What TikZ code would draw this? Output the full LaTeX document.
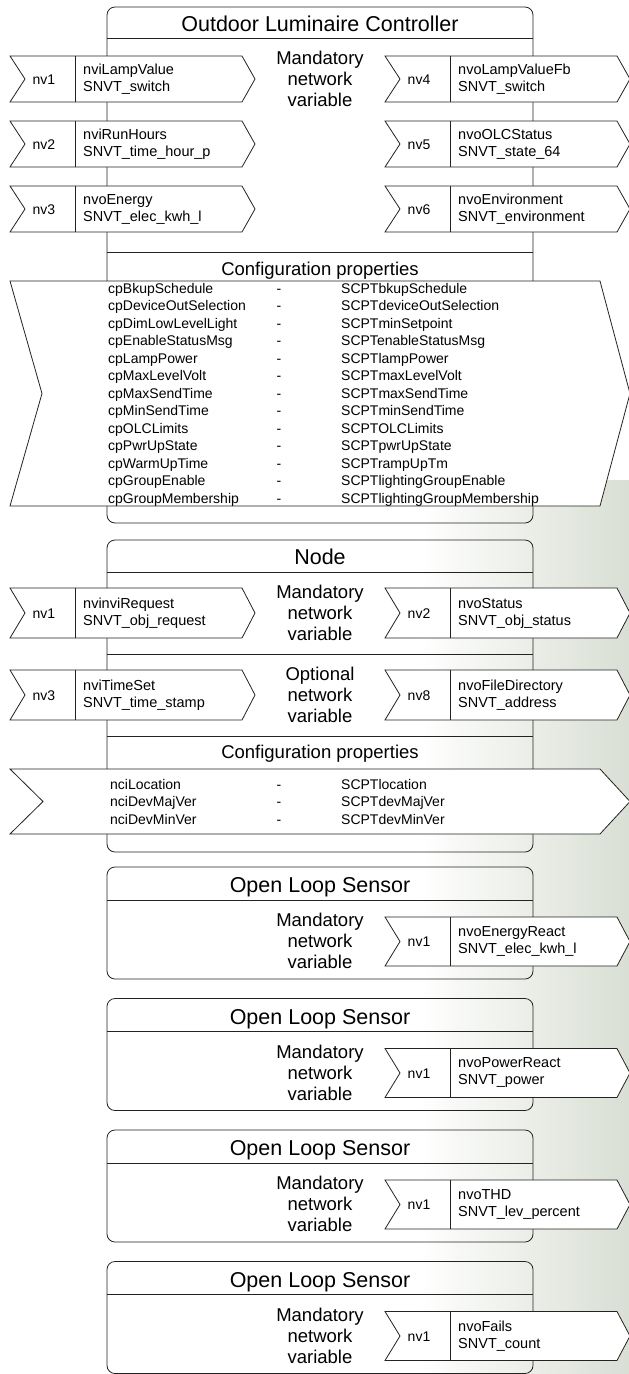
\documentclass[tikz,border=0pt]{standalone}
\usepackage{fontspec}
\setmainfont{Liberation Sans}
\usetikzlibrary{fadings}
\definecolor{linegray}{RGB}{35,35,35}
\definecolor{treebg}{RGB}{204,212,197}

\tikzset{
  boxframe/.style={draw=linegray, line width=0.8pt},
  nvshape/.style={boxframe, fill=white},
  boxtitle/.style={inner sep=0pt, text height=15.4pt, text depth=0pt, font=\fontsize{21.5}{24}\selectfont},
  secttitle/.style={inner sep=0pt, text height=13.2pt, text depth=0pt, font=\fontsize{18.5}{21}\selectfont},
  secttext/.style={inner sep=0pt, align=center, font=\fontsize{18.5}{21}\selectfont},
  nvlabel/.style={inner sep=0pt, text height=10pt, text depth=0pt, font=\fontsize{14}{17}\selectfont},
  nvtext/.style={inner sep=0pt, anchor=west, align=left, font=\fontsize{14.5}{17}\selectfont},
  cpitem/.style={inner sep=0pt, anchor=west, text height=10pt, text depth=0pt, font=\fontsize{14}{17.5}\selectfont},
}

% #1 name, #2 left x, #3 top y, #4 height, #5 label, #6 variable and type
\newcommand{\nvrow}[6]{%
  \draw[nvshape] (#2,#3) -- ++(232,0) -- ++(13,#4/2) -- ++(-13,#4/2) -- ++(-232,0) -- ++(15,-#4/2) -- cycle;
  \draw[boxframe] (#2+65,#3) -- ++(0,#4);
  \node[nvlabel] (#1-nv) at (#2+34,#3+#4/2) {#5};
  \node[nvtext] (#1-var) at (#2+73,#3+#4/2) {#6};
}
% #1 top y, #2 bottom y, #3 notch x
\newcommand{\cpshape}[3]{%
  \draw[nvshape] (10,#1) -- (600,#1) -- (630,{(#1+#2)/2}) -- (600,#2) -- (10,#2) -- (#3,{(#1+#2)/2}) -- cycle;
}

\begin{document}
\begin{tikzpicture}[x=1pt, y=-1pt]
  \useasboundingbox (0,0) rectangle (629,1374);
  \fill[treebg, fill opacity=0.75, path fading=west] (420,480) rectangle (629,1374);

  % Outdoor Luminaire Controller
  \draw[boxframe, rounded corners=8pt] (107,7) rectangle (533,523);
  \draw[boxframe] (107,38) -- (533,38);
  \draw[boxframe] (107,252) -- (533,252);
  \node[boxtitle] (olc-title) at (320,24) {Outdoor Luminaire Controller};
  \node[secttext] (olc-mand) at (320,79) {Mandatory\\network\\variable};
  \nvrow{olc-in1}{10}{56}{46}{nv1}{nviLampValue\\SNVT\_switch}
  \nvrow{olc-in2}{10}{121}{46}{nv2}{nviRunHours\\SNVT\_time\_hour\_p}
  \nvrow{olc-in3}{10}{186}{46}{nv3}{nvoEnergy\\SNVT\_elec\_kwh\_l}
  \nvrow{olc-out4}{385}{56}{46}{nv4}{nvoLampValueFb\\SNVT\_switch}
  \nvrow{olc-out5}{385}{121}{46}{nv5}{nvoOLCStatus\\SNVT\_state\_64}
  \nvrow{olc-out6}{385}{186}{46}{nv6}{nvoEnvironment\\SNVT\_environment}
  \node[secttitle] (olc-config) at (320,269) {Configuration properties};
  \cpshape{281}{506}{42}
  \foreach \cp/\scpt [count=\i] in {cpBkupSchedule/SCPTbkupSchedule,
      cpDeviceOutSelection/SCPTdeviceOutSelection, cpDimLowLevelLight/SCPTminSetpoint,
      cpEnableStatusMsg/SCPTenableStatusMsg, cpLampPower/SCPTlampPower,
      cpMaxLevelVolt/SCPTmaxLevelVolt, cpMaxSendTime/SCPTmaxSendTime,
      cpMinSendTime/SCPTminSendTime, cpOLCLimits/SCPTOLCLimits,
      cpPwrUpState/SCPTpwrUpState, cpWarmUpTime/SCPTrampUpTm,
      cpGroupEnable/SCPTlightingGroupEnable, cpGroupMembership/SCPTlightingGroupMembership} {
    \node[cpitem] (olc-cp\i) at (108,270.5+17.5*\i) {\cp};
    \node[cpitem, anchor=center] (olc-dash\i) at (279,270.5+17.5*\i) {-};
    \node[cpitem] (olc-scpt\i) at (341,270.5+17.5*\i) {\scpt};
  }

  % Node
  \draw[boxframe, rounded corners=8pt] (107,540) rectangle (533,852);
  \draw[boxframe] (107,572) -- (533,572);
  \draw[boxframe] (107,654) -- (533,654);
  \draw[boxframe] (107,736) -- (533,736);
  \node[boxtitle] (node-title) at (320,557) {Node};
  \node[secttext] (node-mand) at (320,613) {Mandatory\\network\\variable};
  \node[secttext] (node-opt) at (320,695) {Optional\\network\\variable};
  \nvrow{node-in1}{10}{588}{50}{nv1}{nvinviRequest\\SNVT\_obj\_request}
  \nvrow{node-in3}{10}{670}{50}{nv3}{nviTimeSet\\SNVT\_time\_stamp}
  \nvrow{node-out2}{385}{588}{50}{nv2}{nvoStatus\\SNVT\_obj\_status}
  \nvrow{node-out8}{385}{670}{50}{nv8}{nvoFileDirectory\\SNVT\_address}
  \node[secttitle] (node-config) at (320,752) {Configuration properties};
  \cpshape{769}{834}{43}
  \foreach \nci/\scpt [count=\i] in {nciLocation/SCPTlocation,
      nciDevMajVer/SCPTdevMajVer, nciDevMinVer/SCPTdevMinVer} {
    \node[cpitem] (node-nci\i) at (110,766.5+17.5*\i) {\nci};
    \node[cpitem, anchor=center] (node-dash\i) at (279,766.5+17.5*\i) {-};
    \node[cpitem] (node-scpt\i) at (341,766.5+17.5*\i) {\scpt};
  }

  % Open Loop Sensors
  \foreach \ytop/\nvname/\nvtype [count=\k] in {867/nvoEnergyReact/elec\_kwh\_l,
      998.5/nvoPowerReact/power, 1130/nvoTHD/lev\_percent, 1261.5/nvoFails/count} {
    \draw[boxframe, rounded corners=8pt] (107,\ytop) rectangle (533,\ytop+112);
    \draw[boxframe] (107,\ytop+33) -- (533,\ytop+33);
    \node[boxtitle] (ols\k-title) at (320,\ytop+18) {Open Loop Sensor};
    \node[secttext] (ols\k-mand) at (320,\ytop+74) {Mandatory\\network\\variable};
    \nvrow{ols\k-out1}{385}{\ytop+50}{49}{nv1}{\nvname\\SNVT\_\nvtype}
  }
\end{tikzpicture}
\end{document}
